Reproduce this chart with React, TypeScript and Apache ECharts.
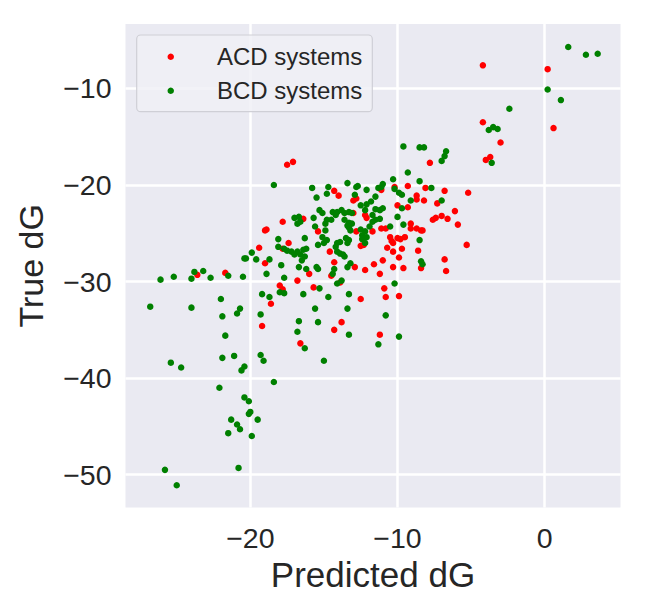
import React, { useEffect, useRef } from "react";
import * as echarts from "echarts";

const seriesNames = ["ACD systems", "BCD systems"];
const seriesColors = ["#ff0000", "#008000"];
const xTicks = [-20, -10, 0];
const yTicks = [-50, -40, -30, -20, -10];
const xLabel = "Predicted dG";
const yLabel = "True dG";

const acdPoints: [number, number][] = [
  [-4.2, -7.6], [0.2, -8.0], [0.6, -14.1], [-4.2, -13.5], [-3.0, -15.6], [-4.0, -17.4], [-3.7, -17.1], [-7.8, -17.7],
  [-9.3, -20.1], [-8.1, -20.3], [-6.8, -20.6], [-5.2, -20.8], [-8.7, -21.1], [-8.7, -21.5], [-8.2, -21.6], [-7.3, -21.9],
  [-11.1, -20.5], [-10.2, -20.2], [-10.0, -22.1], [-9.3, -22.3], [-6.1, -22.7], [-7.6, -23.6], [-7.4, -23.4], [-7.0, -23.2],
  [-6.6, -23.5], [-5.9, -24.1], [-5.3, -26.2],
  [-9.1, -24.0], [-9.1, -24.5], [-8.7, -24.5], [-8.4, -24.7], [-8.3, -24.7], [-9.5, -25.4], [-9.8, -25.6], [-8.6, -26.8],
  [-9.9, -27.5], [-6.8, -27.7], [-8.4, -28.6], [-9.6, -28.6], [-6.7, -28.9],
  [-10.5, -25.4], [-10.4, -25.8], [-10.3, -26.0], [-10.0, -25.5], [-10.7, -26.5], [-10.3, -26.9], [-9.7, -26.6], [-11.0, -27.8],
  [-11.6, -28.2], [-10.3, -28.5], [-11.2, -29.2], [-12.2, -28.8], [-12.9, -28.5], [-14.3, -28.0], [-14.6, -26.9],
  [-11.7, -24.8], [-11.1, -24.5], [-10.8, -24.5], [-12.8, -24.8], [-12.3, -26.2], [-12.5, -26.3],
  [-16.4, -23.5], [-17.4, -26.0], [-16.0, -29.2], [-16.8, -29.9], [-15.7, -30.6], [-12.5, -31.8], [-10.9, -30.7], [-10.8, -31.6],
  [-9.9, -31.5], [-13.9, -30.1], [-14.5, -29.4], [-13.8, -34.2], [-14.3, -35.0], [-11.2, -35.5], [-16.6, -36.4],
  [-17.8, -23.8], [-19.0, -24.7], [-18.9, -24.6], [-19.4, -26.5], [-17.8, -26.6], [-19.0, -28.1], [-23.6, -29.3], [-21.7, -29.1],
  [-18.0, -30.4], [-17.8, -30.8], [-18.6, -32.3], [-19.2, -34.6],
  [-14.0, -21.1], [-14.3, -20.6], [-12.8, -21.4], [-13.0, -21.6], [-12.2, -23.1], [-12.1, -23.4], [-13.0, -22.9], [-15.4, -24.8],
  [-17.5, -17.9], [-17.1, -17.6],
];

const bcdPoints: [number, number][] = [
  [1.6, -5.7], [2.8, -6.5], [3.6, -6.4], [0.2, -10.1], [1.1, -11.2], [-2.4, -12.1], [-3.8, -14.3], [-3.5, -14.0], [-3.2, -14.2],
  [-3.6, -17.7],
  [-9.6, -16.0], [-8.5, -16.1], [-8.2, -16.1], [-6.7, -16.5], [-6.8, -17.0], [-7.0, -17.5], [-9.3, -18.7], [-10.3, -19.4],
  [-8.5, -19.6], [-11.0, -19.9], [-11.1, -20.2], [-10.2, -20.4], [-9.9, -20.8], [-9.7, -21.0], [-7.7, -20.3], [-7.0, -21.6],
  [-9.1, -21.6], [-9.7, -22.4], [-10.0, -23.3], [-9.6, -24.1], [-8.5, -25.7], [-8.4, -27.9], [-8.3, -28.2],
  [-10.2, -30.2], [-10.8, -33.5], [-9.9, -35.7], [-11.3, -36.5], [-13.3, -35.5], [-13.4, -32.8], [-15.6, -32.8], [-16.7, -34.1],
  [-15.4, -34.2], [-16.8, -35.2], [-16.3, -36.9], [-15.0, -38.2],
  [-16.4, -31.3], [-14.7, -31.6], [-13.3, -31.3], [-15.3, -30.7], [-14.1, -30.2], [-13.8, -29.9], [-14.3, -28.7], [-14.4, -29.2],
  [-15.5, -28.5], [-15.4, -28.7], [-16.7, -28.5], [-16.2, -28.7], [-13.2, -28.1], [-13.6, -27.4], [-13.4, -28.5],
  [-14.1, -26.9], [-13.9, -27.1], [-13.7, -27.2],
  [-17.5, -26.8], [-17.2, -26.9], [-17.0, -27.2], [-16.8, -26.9], [-16.6, -27.2], [-16.4, -26.7], [-16.2, -26.6], [-16.3, -27.4],
  [-16.5, -27.8],
  [-16.3, -25.5], [-15.1, -25.4], [-14.8, -25.7], [-15.0, -26.0], [-15.4, -26.2], [-14.1, -26.0], [-13.9, -25.9], [-14.2, -26.4],
  [-13.5, -25.5], [-13.4, -26.0], [-13.3, -25.7], [-12.4, -25.6], [-12.2, -26.0],
  [-12.5, -24.6], [-12.2, -24.8], [-12.4, -25.2], [-12.1, -25.4], [-11.7, -23.8], [-11.9, -24.3], [-10.5, -24.3],
  [-13.6, -23.6], [-13.3, -23.9], [-13.4, -24.2], [-13.1, -24.0], [-13.3, -24.4], [-13.2, -24.7],
  [-11.7, -23.1], [-11.5, -23.6], [-11.2, -23.5],
  [-12.5, -22.1], [-12.1, -22.0], [-11.8, -21.7], [-12.2, -22.6], [-11.5, -22.5], [-11.2, -22.6], [-11.0, -22.4],
  [-13.3, -22.8], [-13.1, -22.9], [-13.6, -22.9], [-13.8, -22.6], [-14.1, -22.8], [-14.4, -22.8], [-14.2, -23.1], [-14.5, -23.6],
  [-15.3, -22.6], [-15.1, -22.9], [-15.7, -23.4], [-14.8, -23.6], [-14.9, -24.0],
  [-17.0, -23.4], [-16.7, -23.3], [-16.8, -24.0], [-16.6, -23.8], [-15.6, -24.3], [-14.9, -24.7],
  [-15.8, -20.3], [-15.5, -21.3], [-14.7, -20.2], [-14.8, -20.9], [-13.4, -19.8], [-12.7, -20.1], [-12.8, -20.2], [-12.9, -21.0],
  [-12.1, -20.5], [-11.3, -20.3], [-11.5, -21.2],
  [-18.4, -20.0], [-18.1, -25.6], [-18.1, -26.4], [-17.7, -26.6], [-19.9, -27.0], [-20.4, -27.6], [-20.3, -27.6], [-19.6, -27.7],
  [-18.7, -27.7], [-17.9, -28.3],
  [-23.8, -29.0], [-23.2, -28.9], [-25.2, -29.5], [-26.1, -29.8], [-24.0, -29.7], [-22.7, -29.6], [-21.5, -29.4], [-20.5, -29.5],
  [-18.9, -29.2], [-17.7, -29.6],
  [-18.0, -31.1], [-17.7, -31.2], [-19.2, -31.3], [-18.7, -31.6], [-22.0, -31.8], [-26.8, -32.6], [-24.0, -32.7], [-20.7, -32.8],
  [-20.9, -33.3], [-21.9, -33.6], [-19.3, -33.4], [-21.7, -35.6],
  [-25.4, -38.4], [-24.7, -38.9], [-21.9, -37.9], [-21.1, -37.7], [-20.4, -38.8], [-20.6, -39.2], [-19.3, -37.6], [-19.1, -38.2],
  [-18.4, -40.4], [-22.1, -41.0], [-20.4, -42.0], [-20.1, -42.4], [-20.0, -43.5], [-20.1, -43.7], [-21.3, -44.3], [-20.9, -44.8],
  [-20.7, -45.3], [-19.5, -44.3], [-21.5, -45.7], [-19.9, -46.0], [-25.8, -49.5], [-20.8, -49.3], [-25.0, -51.1],
];

const FONT = "'Liberation Sans', Arial, sans-serif";
const TEXT = "#262626";
const fmt = (v: number) => (v < 0 ? "\u2212" + Math.abs(v) : String(v));

export default function App() {
  const ref = useRef<HTMLDivElement>(null);
  useEffect(() => {
    document.body.style.margin = "0";
    if (!ref.current) return;
    const chart = echarts.init(ref.current, undefined, { renderer: "svg" });
    chart.setOption({
      animation: false,
      textStyle: { fontFamily: FONT },
      grid: {
        show: true,
        backgroundColor: "#EAEAF2",
        borderWidth: 0,
        left: 125.5,
        right: 26.5,
        top: 24,
        bottom: 97.5,
      },
      xAxis: {
        type: "value",
        min: -28.48,
        max: 5.15,
        name: xLabel,
        nameLocation: "middle",
        nameGap: 45,
        nameTextStyle: { fontSize: 35, color: TEXT, fontFamily: FONT },
        axisLine: { show: false },
        axisTick: { show: false, customValues: xTicks },
        axisLabel: { customValues: xTicks, formatter: fmt, fontSize: 28.5, color: TEXT, margin: 16, fontFamily: FONT },
        splitLine: { show: true, lineStyle: { color: "#ffffff", width: 2.5 } },
      },
      yAxis: {
        type: "value",
        min: -53.4,
        max: -3.32,
        name: yLabel,
        nameLocation: "middle",
        nameGap: 78,
        nameTextStyle: { fontSize: 34, color: TEXT, fontFamily: FONT },
        axisLine: { show: false },
        axisTick: { show: false, customValues: yTicks },
        axisLabel: { customValues: yTicks, formatter: fmt, fontSize: 28.5, color: TEXT, margin: 14, fontFamily: FONT },
        splitLine: { show: true, lineStyle: { color: "#ffffff", width: 2.5 } },
      },
      graphic: [
        {
          type: "rect",
          z: 10,
          shape: { x: 136.7, y: 35, width: 235.6, height: 76.7, r: 4 },
          style: { fill: "rgba(240,240,246,0.85)", stroke: "#cfcfd6", lineWidth: 1.2 },
        },
      ],
      legend: {
        orient: "vertical",
        left: 167.5,
        top: 39.7,
        padding: 0,
        itemGap: 0,
        itemWidth: 6.5,
        itemHeight: 6.5,
        z: 11,
        backgroundColor: "transparent",
        data: seriesNames.map((n) => ({ name: n, icon: "circle" })),
        textStyle: { fontSize: 24, color: TEXT, lineHeight: 34, fontFamily: FONT, padding: [0, 0, 0, 38] },
      },
      series: [
        {
          name: seriesNames[0],
          type: "scatter",
          data: acdPoints,
          symbolSize: 6.5,
          itemStyle: { color: seriesColors[0], opacity: 1 },
          silent: true,
        },
        {
          name: seriesNames[1],
          type: "scatter",
          data: bcdPoints,
          symbolSize: 6.5,
          itemStyle: { color: seriesColors[1], opacity: 1 },
          silent: true,
        },
      ],
    });
    return () => chart.dispose();
  }, []);
  return <div ref={ref} style={{ width: 647, height: 605 }} />;
}
